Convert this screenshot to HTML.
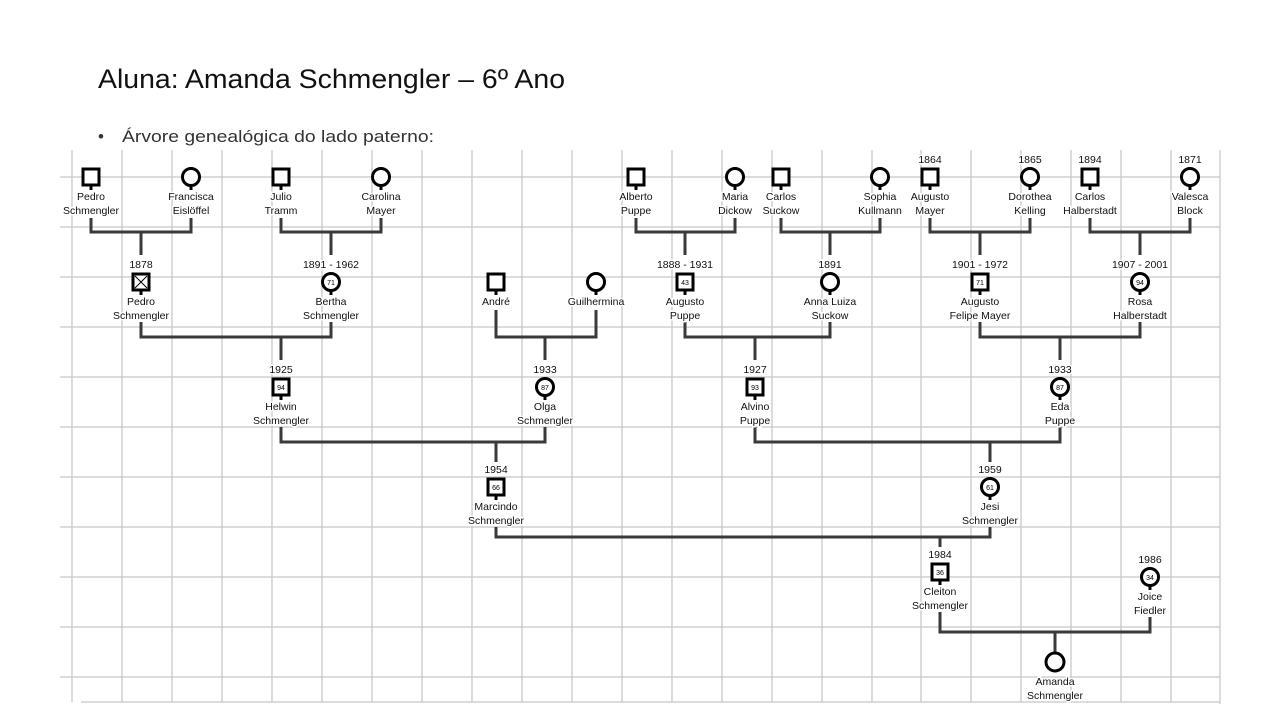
<!DOCTYPE html>
<html><head><meta charset="utf-8"><style>
html,body{margin:0;padding:0;background:#fff;}
svg{display:block;}
text{font-family:"Liberation Sans",Arial,sans-serif;}
.l{font-size:10.5px;fill:#111;text-anchor:middle;paint-order:stroke;stroke:#fff;stroke-width:3px;}
.a{font-size:7px;fill:#000;text-anchor:middle;}
.g line{stroke:#c8c8c8;stroke-width:1.3;}
.c{stroke:#3a3a3a;stroke-width:3;fill:none;}
.s{stroke:#000;stroke-width:3;fill:#fff;}
</style></head><body>
<svg width="1280" height="720" viewBox="0 0 1280 720">
<text x="98" y="88" font-size="27" fill="#111" textLength="467" lengthAdjust="spacingAndGlyphs">Aluna: Amanda Schmengler – 6º Ano</text>
<text x="98" y="142" font-size="17" fill="#333">•</text>
<text x="122" y="142" font-size="17" fill="#333" textLength="312" lengthAdjust="spacingAndGlyphs">Árvore genealógica do lado paterno:</text>
<g class="g">
<line x1="72" y1="150" x2="72" y2="702"/><line x1="122" y1="150" x2="122" y2="702"/><line x1="172" y1="150" x2="172" y2="702"/><line x1="222" y1="150" x2="222" y2="702"/><line x1="272" y1="150" x2="272" y2="702"/><line x1="322" y1="150" x2="322" y2="702"/><line x1="372" y1="150" x2="372" y2="702"/><line x1="422" y1="150" x2="422" y2="702"/><line x1="472" y1="150" x2="472" y2="702"/><line x1="522" y1="150" x2="522" y2="702"/><line x1="572" y1="150" x2="572" y2="702"/><line x1="622" y1="150" x2="622" y2="702"/><line x1="672" y1="150" x2="672" y2="702"/><line x1="722" y1="150" x2="722" y2="702"/><line x1="772" y1="150" x2="772" y2="702"/><line x1="822" y1="150" x2="822" y2="702"/><line x1="872" y1="150" x2="872" y2="702"/><line x1="921" y1="150" x2="921" y2="702"/><line x1="971" y1="150" x2="971" y2="702"/><line x1="1021" y1="150" x2="1021" y2="702"/><line x1="1071" y1="150" x2="1071" y2="702"/><line x1="1121" y1="150" x2="1121" y2="702"/><line x1="1171" y1="150" x2="1171" y2="702"/><line x1="1220" y1="150" x2="1220" y2="704"/>
<line x1="60" y1="177" x2="1220" y2="177"/><line x1="60" y1="227" x2="1220" y2="227"/><line x1="60" y1="277" x2="1220" y2="277"/><line x1="60" y1="327" x2="1220" y2="327"/><line x1="60" y1="377" x2="1220" y2="377"/><line x1="60" y1="427" x2="1220" y2="427"/><line x1="60" y1="477" x2="1220" y2="477"/><line x1="60" y1="527" x2="1220" y2="527"/><line x1="60" y1="577" x2="1220" y2="577"/><line x1="60" y1="627" x2="1220" y2="627"/><line x1="60" y1="677" x2="1220" y2="677"/><line x1="81" y1="702" x2="1220" y2="702"/>
</g>
<g class="c">
<path d="M91 218V232H191V218M141 232V255"/>
<path d="M281 218V232H381V218M331 232V255"/>
<path d="M636 218V232H735V218M685 232V255"/>
<path d="M781 218V232H880V218M830 232V255"/>
<path d="M930 218V232H1030V218M980 232V255"/>
<path d="M1090 218V232H1190V218M1140 232V255"/>
<path d="M141 322V337H331V322M281 337V360"/>
<path d="M496 310V337H596V310M545 337V360"/>
<path d="M685 322V337H830V322M755 337V360"/>
<path d="M980 322V337H1140V322M1060 337V360"/>
<path d="M281 427V442H545V427M496 442V462"/>
<path d="M755 427V442H1060V427M990 442V462"/>
<path d="M496 527V537H990V527M940 537V547"/>
<path d="M940 612V632H1150V617M1055 632V652"/>
</g>
<g stroke="#000" stroke-width="3">
<path d="M91 186V190M191 186V190M281 186V190M381 186V190M636 186V190M735 186V190M781 186V190M880 186V190M930 186V190M1030 186V190M1090 186V190M1190 186V190"/>
<path d="M141 273V295M331 273V295M496 291V295M596 291V295M685 273V295M830 273V295M980 273V295M1140 273V295"/>
<path d="M281 378V400M545 378V400M755 378V400M1060 378V400M496 478V500M990 478V500M940 563V585M1150 568V590"/>
</g>
<g class="s">
<rect x="83" y="169" width="16" height="16"/><circle cx="191" cy="177" r="8.5"/>
<rect x="273" y="169" width="16" height="16"/><circle cx="381" cy="177" r="8.5"/>
<rect x="628" y="169" width="16" height="16"/><circle cx="735" cy="177" r="8.5"/>
<rect x="773" y="169" width="16" height="16"/><circle cx="880" cy="177" r="8.5"/>
<rect x="922" y="169" width="16" height="16"/><circle cx="1030" cy="177" r="8.5"/>
<rect x="1082" y="169" width="16" height="16"/><circle cx="1190" cy="177" r="8.5"/>
<rect x="133" y="274" width="16" height="16"/><circle cx="331" cy="282" r="8.5"/>
<rect x="488" y="274" width="16" height="16"/><circle cx="596" cy="282" r="8.5"/>
<rect x="677" y="274" width="16" height="16"/><circle cx="830" cy="282" r="8.5"/>
<rect x="972" y="274" width="16" height="16"/><circle cx="1140" cy="282" r="8.5"/>
<rect x="273" y="379" width="16" height="16"/><circle cx="545" cy="387" r="8.5"/>
<rect x="747" y="379" width="16" height="16"/><circle cx="1060" cy="387" r="8.5"/>
<rect x="488" y="479" width="16" height="16"/><circle cx="990" cy="487" r="8.5"/>
<rect x="932" y="564" width="16" height="16"/><circle cx="1150" cy="577" r="8.5"/>
<circle cx="1055" cy="662" r="9"/>
</g>
<path d="M135 276L147 288M147 276L135 288" stroke="#000" stroke-width="1"/>
<text class="a" x="331" y="285">71</text><text class="a" x="685" y="285">43</text><text class="a" x="980" y="285">71</text><text class="a" x="1140" y="285">94</text>
<text class="a" x="281" y="390">94</text><text class="a" x="545" y="390">87</text><text class="a" x="755" y="390">93</text><text class="a" x="1060" y="390">87</text>
<text class="a" x="496" y="490">66</text><text class="a" x="990" y="490">61</text><text class="a" x="940" y="575">36</text><text class="a" x="1150" y="580">34</text>
<g class="l">
<text x="930" y="163">1864</text><text x="1030" y="163">1865</text><text x="1090" y="163">1894</text><text x="1190" y="163">1871</text>
<text x="91" y="200">Pedro</text><text x="91" y="214">Schmengler</text>
<text x="191" y="200">Francisca</text><text x="191" y="214">Eislöffel</text>
<text x="281" y="200">Julio</text><text x="281" y="214">Tramm</text>
<text x="381" y="200">Carolina</text><text x="381" y="214">Mayer</text>
<text x="636" y="200">Alberto</text><text x="636" y="214">Puppe</text>
<text x="735" y="200">Maria</text><text x="735" y="214">Dickow</text>
<text x="781" y="200">Carlos</text><text x="781" y="214">Suckow</text>
<text x="880" y="200">Sophia</text><text x="880" y="214">Kullmann</text>
<text x="930" y="200">Augusto</text><text x="930" y="214">Mayer</text>
<text x="1030" y="200">Dorothea</text><text x="1030" y="214">Kelling</text>
<text x="1090" y="200">Carlos</text><text x="1090" y="214">Halberstadt</text>
<text x="1190" y="200">Valesca</text><text x="1190" y="214">Block</text>
<text x="141" y="268">1878</text><text x="331" y="268">1891 - 1962</text><text x="685" y="268">1888 - 1931</text><text x="830" y="268">1891</text><text x="980" y="268">1901 - 1972</text><text x="1140" y="268">1907 - 2001</text>
<text x="141" y="305">Pedro</text><text x="141" y="319">Schmengler</text>
<text x="331" y="305">Bertha</text><text x="331" y="319">Schmengler</text>
<text x="496" y="305">André</text><text x="596" y="305">Guilhermina</text>
<text x="685" y="305">Augusto</text><text x="685" y="319">Puppe</text>
<text x="830" y="305">Anna Luiza</text><text x="830" y="319">Suckow</text>
<text x="980" y="305">Augusto</text><text x="980" y="319">Felipe Mayer</text>
<text x="1140" y="305">Rosa</text><text x="1140" y="319">Halberstadt</text>
<text x="281" y="373">1925</text><text x="545" y="373">1933</text><text x="755" y="373">1927</text><text x="1060" y="373">1933</text>
<text x="281" y="410">Helwin</text><text x="281" y="424">Schmengler</text>
<text x="545" y="410">Olga</text><text x="545" y="424">Schmengler</text>
<text x="755" y="410">Alvino</text><text x="755" y="424">Puppe</text>
<text x="1060" y="410">Eda</text><text x="1060" y="424">Puppe</text>
<text x="496" y="473">1954</text><text x="990" y="473">1959</text>
<text x="496" y="510">Marcindo</text><text x="496" y="524">Schmengler</text>
<text x="990" y="510">Jesi</text><text x="990" y="524">Schmengler</text>
<text x="940" y="558">1984</text><text x="1150" y="563">1986</text>
<text x="940" y="595">Cleiton</text><text x="940" y="609">Schmengler</text>
<text x="1150" y="600">Joice</text><text x="1150" y="614">Fiedler</text>
<text x="1055" y="685">Amanda</text><text x="1055" y="699">Schmengler</text>
</g>
</svg>
</body></html>
